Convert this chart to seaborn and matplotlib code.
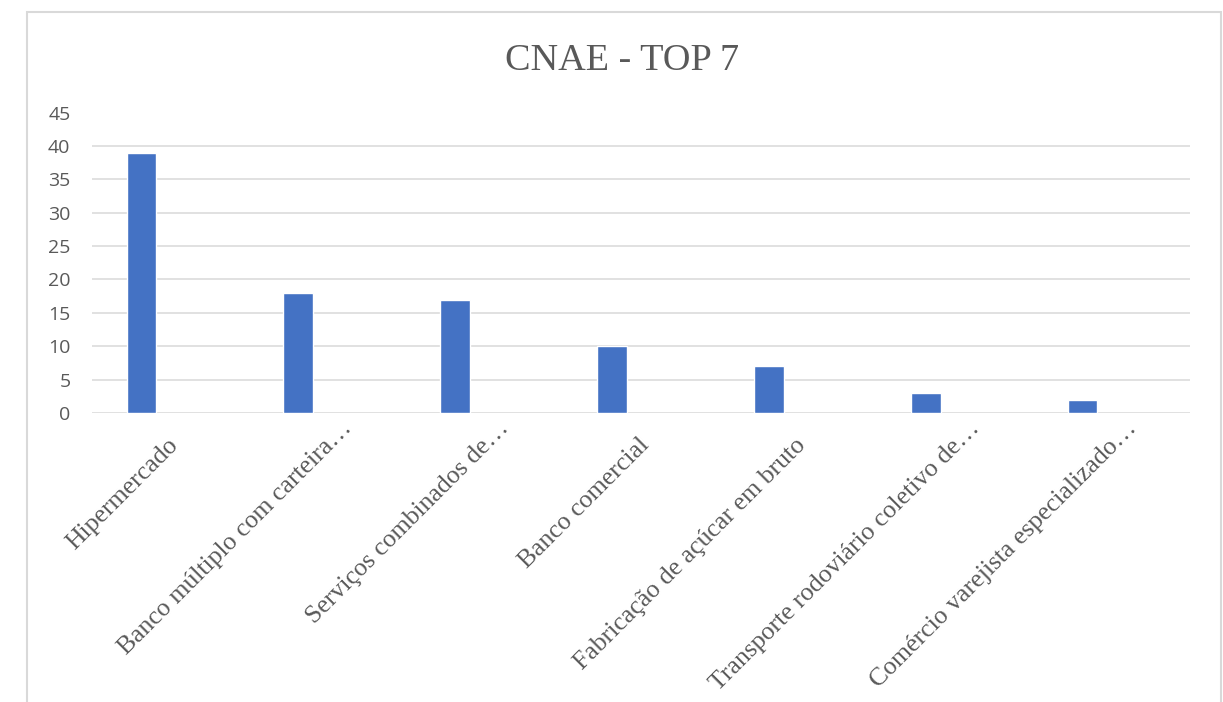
import matplotlib
matplotlib.use("Agg")
import matplotlib.pyplot as plt
from matplotlib.patches import Rectangle
from matplotlib.transforms import ScaledTranslation
import seaborn as sns
import pandas as pd

# CNAE activities and their counts
categories = [
    "Hipermercado",
    "Banco múltiplo com carteira…",
    "Serviços combinados de…",
    "Banco comercial",
    "Fabricação de açúcar em bruto",
    "Transporte rodoviário coletivo de…",
    "Comércio varejista especializado…",
]
counts = [39, 18, 17, 10, 7, 3, 2]
y_ticks = [0, 5, 10, 15, 20, 25, 30, 35, 40, 45]
title = "CNAE - TOP 7"

df = pd.DataFrame({"cnae": categories, "total": counts})

sns.set_style("white")
plt.rcParams["font.family"] = ["Liberation Serif", "DejaVu Serif"]

W, H = 1223, 702
fig = plt.figure(figsize=(W / 100, H / 100), dpi=100)
ax = fig.add_axes([92 / W, 1 - 413 / H, (1190 - 92) / W, (413 - 112.6) / H])

text_gray = "#595959"
grid_gray = "#d9d9d9"

sns.barplot(data=df, x="cnae", y="total", color="#4472C4", saturation=1,
            width=0.19, ax=ax)

# bars sit in the left part of each category slot
ax.set_xlim(-0.315, len(categories) - 0.315)
ax.set_ylim(0, 45)
ax.set_yticks(y_ticks)
ax.set_yticklabels([str(t) for t in y_ticks], family=["Open Sans", "DejaVu Sans"],
                   fontsize=14, color=text_gray)
ax.set_xlabel("")
ax.set_ylabel("")

for s in ax.spines.values():
    s.set_visible(False)

ax.set_axisbelow(True)
ax.yaxis.grid(True, color=grid_gray, linewidth=1.1)
ax.xaxis.grid(False)
ax.get_ygridlines()[-1].set_visible(False)
ax.tick_params(axis="y", length=0, pad=15.5)
ax.tick_params(axis="x", length=0, pad=0)

ax.set_xticks(range(len(categories)))
ax.set_xticklabels(categories, rotation=45, ha="right", va="baseline",
                   rotation_mode="anchor", fontsize=18.5, color=text_gray)
for lbl in ax.get_xticklabels():
    dx, dy = 38, -33
    if lbl.get_text().endswith("…"):
        # truncated labels run a little further along the diagonal
        dx, dy = dx + 17, dy + 17
    lbl.set_transform(lbl.get_transform()
                      + ScaledTranslation(dx / 100, dy / 100, fig.dpi_scale_trans))

fig.text(622 / W, 1 - 70 / H, title, ha="center", va="baseline",
         fontsize=27.5, color=text_gray)

# chart frame
fig.patches.append(Rectangle((27 / W, -0.05), (1221 - 27) / W, 1.05 - 12 / H,
                             transform=fig.transFigure, fill=False,
                             edgecolor=grid_gray, linewidth=1.5))

fig.savefig("out.png", dpi=100)
